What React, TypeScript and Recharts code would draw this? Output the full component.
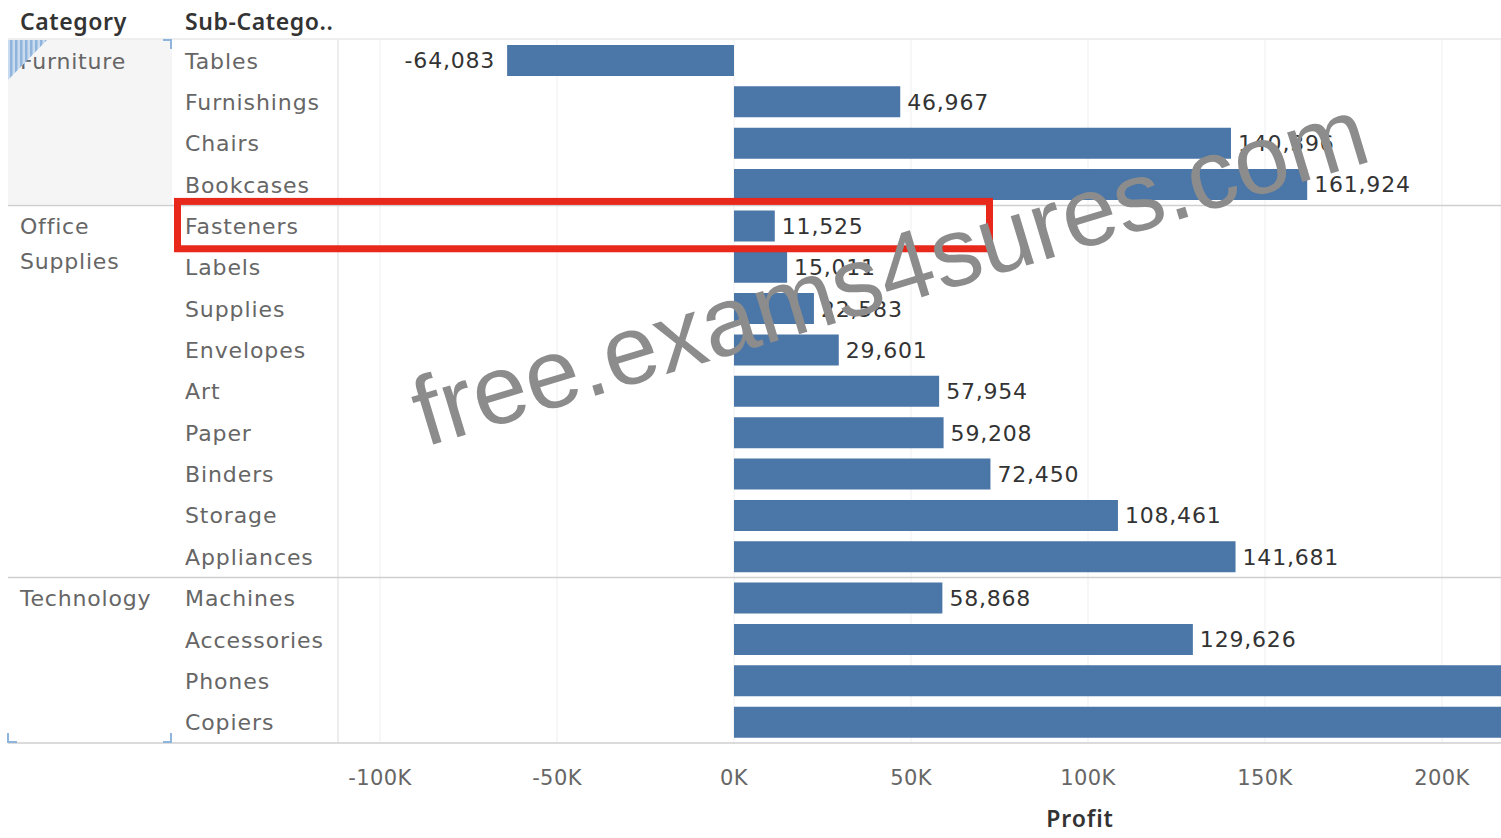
import { Bar, BarChart, CartesianGrid, LabelList, XAxis, YAxis } from "recharts";

const categories = ["Furniture", "Office Supplies", "Technology"];
const subCategories = [
  "Tables", "Furnishings", "Chairs", "Bookcases",
  "Fasteners", "Labels", "Supplies", "Envelopes", "Art", "Paper", "Binders", "Storage", "Appliances",
  "Machines", "Accessories", "Phones", "Copiers",
];
const subCategoryGroup = [
  0, 0, 0, 0,
  1, 1, 1, 1, 1, 1, 1, 1, 1,
  2, 2, 2, 2,
];
const profit = [
  -64083, 46967, 140396, 161924,
  11525, 15011, 22583, 29601, 57954, 59208, 72450, 108461, 141681,
  58868, 129626, 216717, 258567,
];
const xTicks = [-100000, -50000, 0, 50000, 100000, 150000, 200000];
const highlighted = "Fasteners";

const data = subCategories.map((sub, i) => ({
  sub,
  cat: categories[subCategoryGroup[i]],
  profit: profit[i],
}));

const W = 1501;
const H = 838;
const TOP = 40;
const AXIS_H = 95;
const LEFT_W = 338;
const ROW_H = (H - TOP - AXIS_H) / data.length;
const FONT = "'DejaVu Sans', sans-serif";
const HEAD_FONT = "'Noto Sans', 'DejaVu Sans', sans-serif";
const BAR = "#4a76a8";
const LINE = "#cfcfcf";

const fmt = (v: number) => v.toLocaleString("en-US");

function SubTick(props: any) {
  const { y, payload, index } = props;
  const row = data[index] ?? data.find((d) => d.sub === payload.value);
  const first = index === 0 || data[index - 1]?.cat !== row.cat;
  const last = index === data.length - 1;
  const catLines = row.cat === "Office Supplies" ? ["Office", "Supplies"] : [row.cat];
  return (
    <g>
      {index === 0 && (
        <>
          <rect x={8} y={y - ROW_H / 2} width={164} height={ROW_H * 4 - 1} fill="#f5f5f5" />
          <line x1={8} x2={W} y1={y - ROW_H / 2 - 1} y2={y - ROW_H / 2 - 1} stroke="#dcdcdc" />
        </>
      )}
      {first && index > 0 && (
        <line x1={8} x2={W} y1={y - ROW_H / 2} y2={y - ROW_H / 2} stroke={LINE} strokeWidth={1.5} />
      )}
      {last && (
        <line x1={8} x2={W} y1={y + ROW_H / 2} y2={y + ROW_H / 2} stroke={LINE} strokeWidth={1.5} />
      )}
      {first &&
        catLines.map((t, k) => (
          <text
            key={t}
            x={20}
            y={y + k * 35}
            dy="0.36em"
            fontFamily={FONT}
            fontSize={22}
            letterSpacing={0.8}
            fill="#666"
          >
            {t}
          </text>
        ))}
      <text
        x={185}
        y={y}
        dy="0.36em"
        fontFamily={FONT}
        fontSize={22}
        letterSpacing={0.9}
        fill="#666"
      >
        {payload.value}
      </text>
    </g>
  );
}

function XTick(props: any) {
  const { x, payload } = props;
  return (
    <text
      x={x}
      y={H - AXIS_H + 34}
      dy="0.36em"
      textAnchor="middle"
      fontFamily={FONT}
      fontSize={21}
      letterSpacing={0.4}
      fill="#666"
    >
      {`${payload.value / 1000}K`}
    </text>
  );
}

function ValueLabel(props: any) {
  const { x, y, width, height, value } = props;
  const neg = value < 0;
  const left = Math.min(x, x + width);
  const right = Math.max(x, x + width);
  // labels of bars that run past the pane edge are clipped away, as in the view
  if (!neg && right >= W - 2) return null;
  return (
    <text
      x={neg ? left - 12 : right + 7}
      y={y + height / 2}
      dy="0.36em"
      textAnchor={neg ? "end" : "start"}
      fontFamily={FONT}
      fontSize={22}
      letterSpacing={0.8}
      fill="#333"
    >
      {fmt(value)}
    </text>
  );
}

export default function App() {
  const hi = subCategories.indexOf(highlighted);
  const hiTop = TOP + hi * ROW_H;
  return (
    <div style={{ position: "absolute", left: 0, top: 0, width: W, height: H, background: "#fff" }}>
      <BarChart
        width={W}
        height={H}
        data={data}
        layout="vertical"
        margin={{ top: TOP, right: 0, left: 0, bottom: 0 }}
      >
        <CartesianGrid horizontal={false} stroke="#efefef" />
        <XAxis
          type="number"
          domain={[-111860, 216670]}
          allowDataOverflow
          ticks={xTicks}
          height={AXIS_H}
          axisLine={false}
          tickLine={false}
          tick={<XTick />}
        />
        <YAxis
          type="category"
          dataKey="sub"
          width={LEFT_W}
          axisLine={{ stroke: "#e3e3e3" }}
          tickLine={false}
          interval={0}
          tick={<SubTick />}
        />
        <Bar dataKey="profit" fill={BAR} barSize={31} isAnimationActive={false}>
          <LabelList dataKey="profit" content={<ValueLabel />} />
        </Bar>
      </BarChart>
      <svg
        width={W}
        height={H}
        style={{ position: "absolute", left: 0, top: 0, pointerEvents: "none" }}
      >
        <defs>
          <pattern id="hatch" width="5" height="5" patternUnits="userSpaceOnUse">
            <rect width="5" height="5" fill="#c9dcef" />
            <rect width="2.5" height="5" fill="#8fb5dc" />
          </pattern>
        </defs>
        <text x={20} y={22} dy="0.36em" fontFamily={HEAD_FONT} fontSize={23} fontWeight={600} letterSpacing={0.6} fill="#333">
          Category
        </text>
        <text x={185} y={22} dy="0.36em" fontFamily={HEAD_FONT} fontSize={23} fontWeight={600} letterSpacing={0.6} fill="#333">
          Sub-Catego..
        </text>
        <text
          x={1080}
          y={819}
          dy="0.36em"
          textAnchor="middle"
          fontFamily={HEAD_FONT}
          fontSize={23}
          fontWeight={600}
          letterSpacing={0.9}
          fill="#333"
        >
          Profit
        </text>
        <polygon points={`8,${TOP} 47,${TOP} 8,${TOP + 40}`} fill="url(#hatch)" />
        <path d={`M163,${TOP} H171 V${TOP + 9}`} stroke="#8fb5dc" strokeWidth={2} fill="none" />
        <path d={`M8,${H - AXIS_H - 10} V${H - AXIS_H - 1} H17`} stroke="#8fb5dc" strokeWidth={2} fill="none" />
        <path d={`M171,${H - AXIS_H - 10} V${H - AXIS_H - 1} H163`} stroke="#8fb5dc" strokeWidth={2} fill="none" />
        <rect
          x={177.5}
          y={hiTop - 4}
          width={812}
          height={ROW_H + 6}
          fill="none"
          stroke="#e8281b"
          strokeWidth={7}
        />
        <text
          x={425}
          y={447}
          transform="rotate(-16.8 425 447)"
          fontFamily="'Liberation Sans', Arial, sans-serif"
          fontSize={98}
          fill="#8c8c8c"
        >
          free.exams4sures.com
        </text>
      </svg>
    </div>
  );
}
